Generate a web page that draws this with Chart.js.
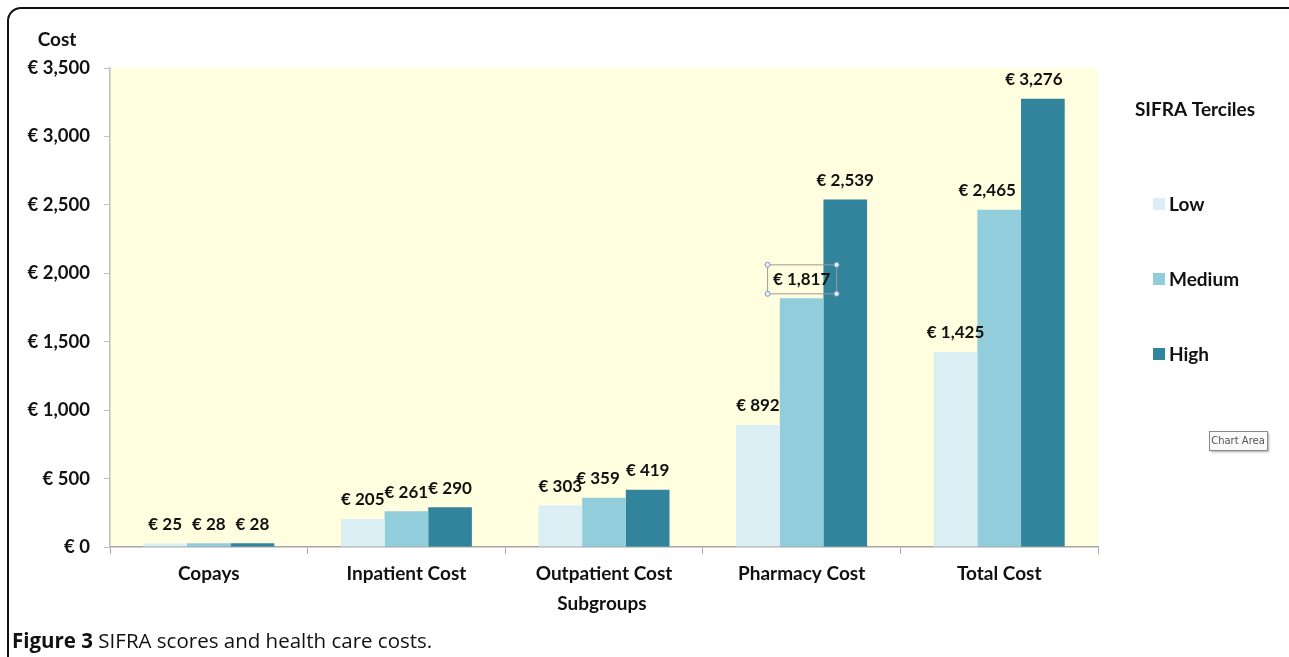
<!DOCTYPE html>
<html>
<head>
<meta charset="utf-8">
<script src="https://cdn.jsdelivr.net/npm/chart.js@4.4.1/dist/chart.umd.min.js"></script>
<style>
  html, body { margin: 0; padding: 0; background: #fff; }
  body { width: 1289px; height: 657px; position: relative; overflow: hidden; }
  #wrap { position: absolute; left: 0; top: 0; width: 1289px; height: 657px; }
  #frame { position: absolute; left: 7px; top: 7px; width: 1300px; height: 670px;
           border: 2px solid #111; border-radius: 14px; box-sizing: border-box; pointer-events: none; }
  #caption { position: absolute; left: 12px; top: 626px; font-family: "Open Sans", sans-serif;
             font-size: 20.5px; color: #111; white-space: nowrap; }
  #caption b { font-weight: 700; }
</style>
</head>
<body>
<div id="wrap"><canvas id="c" width="1289" height="657"></canvas></div>
<div id="frame"></div>
<div id="caption"><b>Figure 3</b> SIFRA scores and health care costs.</div>
<script>
const categories = ["Copays", "Inpatient Cost", "Outpatient Cost", "Pharmacy Cost", "Total Cost"];
const seriesNames = ["Low", "Medium", "High"];
const lowValues = [25, 205, 303, 892, 1425];
const mediumValues = [28, 261, 359, 1817, 2465];
const highValues = [28, 290, 419, 2539, 3276];
const yTickValues = [0, 500, 1000, 1500, 2000, 2500, 3000, 3500];

const colors = ["#DAEEF3", "#92CDDC", "#31849B"];
const FONT = "Lato, 'DejaVu Sans', sans-serif";

function euro(v) { return "€ " + v.toLocaleString("en-US"); }

// label nudges (style only) for labels that were moved in the original
const labelNudge = { "1-2": -6, "1-4": -12, "3-1": -13, "2-4": -9 };

const decorPlugin = {
  id: "decor",
  beforeDraw(chart) {
    const { ctx, chartArea: a } = chart;
    ctx.save();
    ctx.fillStyle = "#FFFFE0";
    ctx.fillRect(a.left, a.top, a.right - a.left, a.bottom - a.top);
    ctx.restore();
  },
  afterDatasetsDraw(chart) {
    const ctx = chart.ctx;
    ctx.save();
    ctx.font = "bold 17px " + FONT;
    ctx.fillStyle = "#111";
    ctx.textAlign = "center";
    ctx.textBaseline = "middle";
    chart.data.datasets.forEach((ds, di) => {
      const meta = chart.getDatasetMeta(di);
      meta.data.forEach((bar, i) => {
        const nudge = labelNudge[di + "-" + i] || 0;
        const x = bar.x + nudge, y = bar.y - 19;
        const txt = euro(ds.data[i]);
        ctx.fillText(txt, x, y);
        if (di === 1 && i === 3) {
          const w = 69;
          const l = x - w / 2, t = y - 15, h = 29;
          ctx.strokeStyle = "#9a9a9a";
          ctx.lineWidth = 1;
          ctx.strokeRect(l + 0.5, t + 0.5, w, h);
          ctx.fillStyle = "#e8f0f8";
          ctx.strokeStyle = "#7f9ab5";
          [[l, t], [l + w, t], [l, t + h], [l + w, t + h]].forEach(([px, py]) => {
            ctx.beginPath(); ctx.arc(px + 0.5, py + 0.5, 2.5, 0, Math.PI * 2); ctx.fill(); ctx.stroke();
          });
          ctx.fillStyle = "#111";
        }
      });
    });
    ctx.restore();
  },
  afterDraw(chart) {
    const ctx = chart.ctx;
    ctx.save();
    ctx.fillStyle = "#111";
    ctx.font = "bold 19px " + FONT;
    ctx.textBaseline = "middle";
    ctx.textAlign = "center";
    ctx.fillText("Cost", 57, 40);
    ctx.fillText("Subgroups", 602, 604);
    // legend
    ctx.fillText("SIFRA Terciles", 1195, 110);
    ctx.font = "bold 19px " + FONT;
    ctx.textAlign = "left";
    const ys = [204, 279, 354];
    chart.data.datasets.forEach((ds, i) => {
      ctx.fillStyle = ds.backgroundColor;
      ctx.fillRect(1153, ys[i] - 6, 12, 12);
      ctx.fillStyle = "#111";
      ctx.fillText(ds.label, 1169, ys[i] + 1);
    });
    // "Chart Area" tooltip artifact
    ctx.shadowColor = "rgba(0,0,0,0.35)";
    ctx.shadowOffsetX = 1.5; ctx.shadowOffsetY = 1.5; ctx.shadowBlur = 2;
    ctx.fillStyle = "#fafafa";
    ctx.fillRect(1209, 431, 58, 19);
    ctx.shadowColor = "transparent";
    ctx.strokeStyle = "#8a8a8a";
    ctx.lineWidth = 1;
    ctx.strokeRect(1209.5, 431.5, 58, 19);
    ctx.fillStyle = "#555";
    ctx.font = "10px 'DejaVu Sans', sans-serif";
    ctx.textAlign = "center";
    ctx.fillText("Chart Area", 1238, 441.5);
    ctx.restore();
  }
};

new Chart(document.getElementById("c"), {
  type: "bar",
  data: {
    labels: categories,
    datasets: [
      { label: seriesNames[0], data: lowValues, backgroundColor: colors[0] },
      { label: seriesNames[1], data: mediumValues, backgroundColor: colors[1] },
      { label: seriesNames[2], data: highValues, backgroundColor: colors[2] }
    ]
  },
  options: {
    responsive: false,
    animation: false,
    events: [],
    layout: { padding: { top: 68, right: 191, bottom: 0, left: 0 } },
    plugins: { legend: { display: false }, tooltip: { enabled: false }, title: { display: false } },
    datasets: { bar: { categoryPercentage: 0.663, barPercentage: 1.0, borderWidth: 0 } },
    scales: {
      x: {
        afterFit(scale) { scale.height = 110; },
        grid: { drawOnChartArea: false, tickLength: 7, color: "#a6a6a6", offset: true },
        border: { color: "#a6a6a6", width: 1.5 },
        ticks: { color: "#111", font: { family: FONT, size: 19, weight: "bold" }, padding: 8, maxRotation: 0 }
      },
      y: {
        min: 0, max: 3500,
        afterFit(scale) { scale.width = 110; },
        afterBuildTicks(scale) { scale.ticks = yTickValues.map(v => ({ value: v })); },
        grid: { drawOnChartArea: false, tickLength: 6, color: "#bfbfbf" },
        border: { color: "#bfbfbf", width: 1.5 },
        ticks: { color: "#111", font: { family: FONT, size: 18.5, weight: "bold" }, padding: 14,
                 callback: v => euro(v) }
      }
    }
  },
  plugins: [decorPlugin]
});
</script>
</body>
</html>
